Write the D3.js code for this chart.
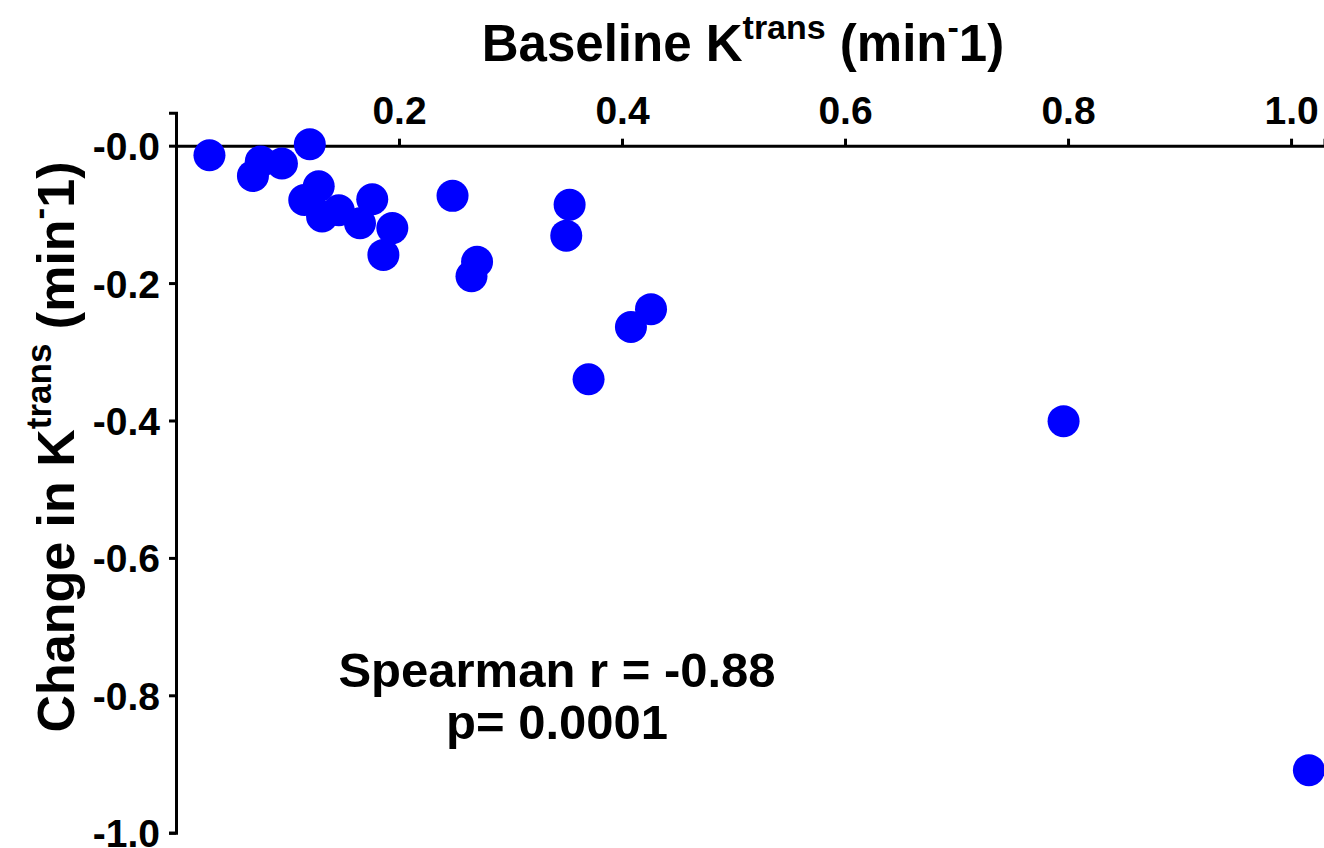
<!DOCTYPE html>
<html lang="en">
<head>
<meta charset="UTF-8">
<title>Baseline Ktrans vs change</title>
<style>
  body { margin: 0; background: #fff; }
  text { font-family: "Liberation Sans", Arial, sans-serif; font-weight: bold; fill: #000; }
</style>
</head>
<body>
<script src="https://cdn.jsdelivr.net/npm/d3@7"></script>
<script>
// values
var baseline = [0.030, 0.069, 0.076, 0.095, 0.120, 0.115, 0.128, 0.131, 0.146, 0.165, 0.176, 0.194, 0.186,
                0.248, 0.353, 0.350, 0.270, 0.265, 0.426, 0.408, 0.370, 0.796, 1.016];
var change   = [-0.014, -0.044, -0.023, -0.026, 0.002, -0.079, -0.059, -0.103, -0.094, -0.113, -0.078, -0.120, -0.159,
                -0.073, -0.086, -0.131, -0.169, -0.190, -0.238, -0.264, -0.340, -0.401, -0.909];
var xTicks = [0.2, 0.4, 0.6, 0.8, 1.0];
var yTicks = [0, -0.2, -0.4, -0.6, -0.8, -1.0];
var yTickLabels = ["-0.0", "-0.2", "-0.4", "-0.6", "-0.8", "-1.0"];
var statLines = ["Spearman r = -0.88", "p= 0.0001"];

var width = 1324, height = 848;
var svg = d3.select("body").append("svg").attr("width", width).attr("height", height);

var x = d3.scaleLinear().domain([0, 1.03]).range([176, 1324.5]);
var y = d3.scaleLinear().domain([0.048, -1.0]).range([112.7, 832.7]);

// x axis sits on y = 0, at the top
var gx = svg.append("g").attr("transform", "translate(0," + y(0) + ")")
    .call(d3.axisTop(x).tickValues(xTicks).tickSizeOuter(0).tickSize(7).tickPadding(15)
        .tickFormat(d3.format(".1f")));
var gy = svg.append("g").attr("transform", "translate(" + x(0) + ",0)")
    .call(d3.axisLeft(y).tickValues(yTicks).tickSizeOuter(0).tickSize(7).tickPadding(9)
        .tickFormat(function(d, i) { return yTickLabels[i]; }));

[gx, gy].forEach(function(g) {
  g.select(".domain").attr("stroke", "#000").attr("stroke-width", 3);
  g.selectAll(".tick line").attr("stroke", "#000").attr("stroke-width", 3);
  g.selectAll(".tick text").attr("font-size", 39).attr("font-family", null);
});
gy.selectAll(".tick text").attr("dy", "0.36em");

svg.append("g").selectAll("circle")
  .data(baseline.map(function(b, i) { return [b, change[i]]; }))
  .join("circle")
    .attr("cx", function(d) { return x(d[0]); })
    .attr("cy", function(d) { return y(d[1]); })
    .attr("r", 16)
    .attr("fill", "#0000ff");

// title
var t = svg.append("text").attr("x", 743).attr("y", 61).attr("text-anchor", "middle").attr("font-size", 51);
t.append("tspan").text("Baseline K");
t.append("tspan").attr("font-size", 34).attr("dy", -22).text("trans");
t.append("tspan").attr("dy", 22).text(" (min");
t.append("tspan").attr("font-size", 34).attr("dy", -22).text("-");
t.append("tspan").attr("dy", 22).text("1)");

// y label
var yl = svg.append("text").attr("transform", "translate(74,447) rotate(-90)")
    .attr("text-anchor", "middle").attr("font-size", 52);
yl.append("tspan").text("Change in K");
yl.append("tspan").attr("font-size", 35).attr("dy", -23).text("trans");
yl.append("tspan").attr("dy", 23).text(" (min");
yl.append("tspan").attr("font-size", 35).attr("dy", -23).text("-");
yl.append("tspan").attr("dy", 23).text("1)");

svg.append("g").selectAll("text").data(statLines).join("text")
    .attr("x", 557).attr("y", function(d, i) { return 687 + i * 52; })
    .attr("text-anchor", "middle").attr("font-size", 49)
    .text(function(d) { return d; });
</script>
</body>
</html>
